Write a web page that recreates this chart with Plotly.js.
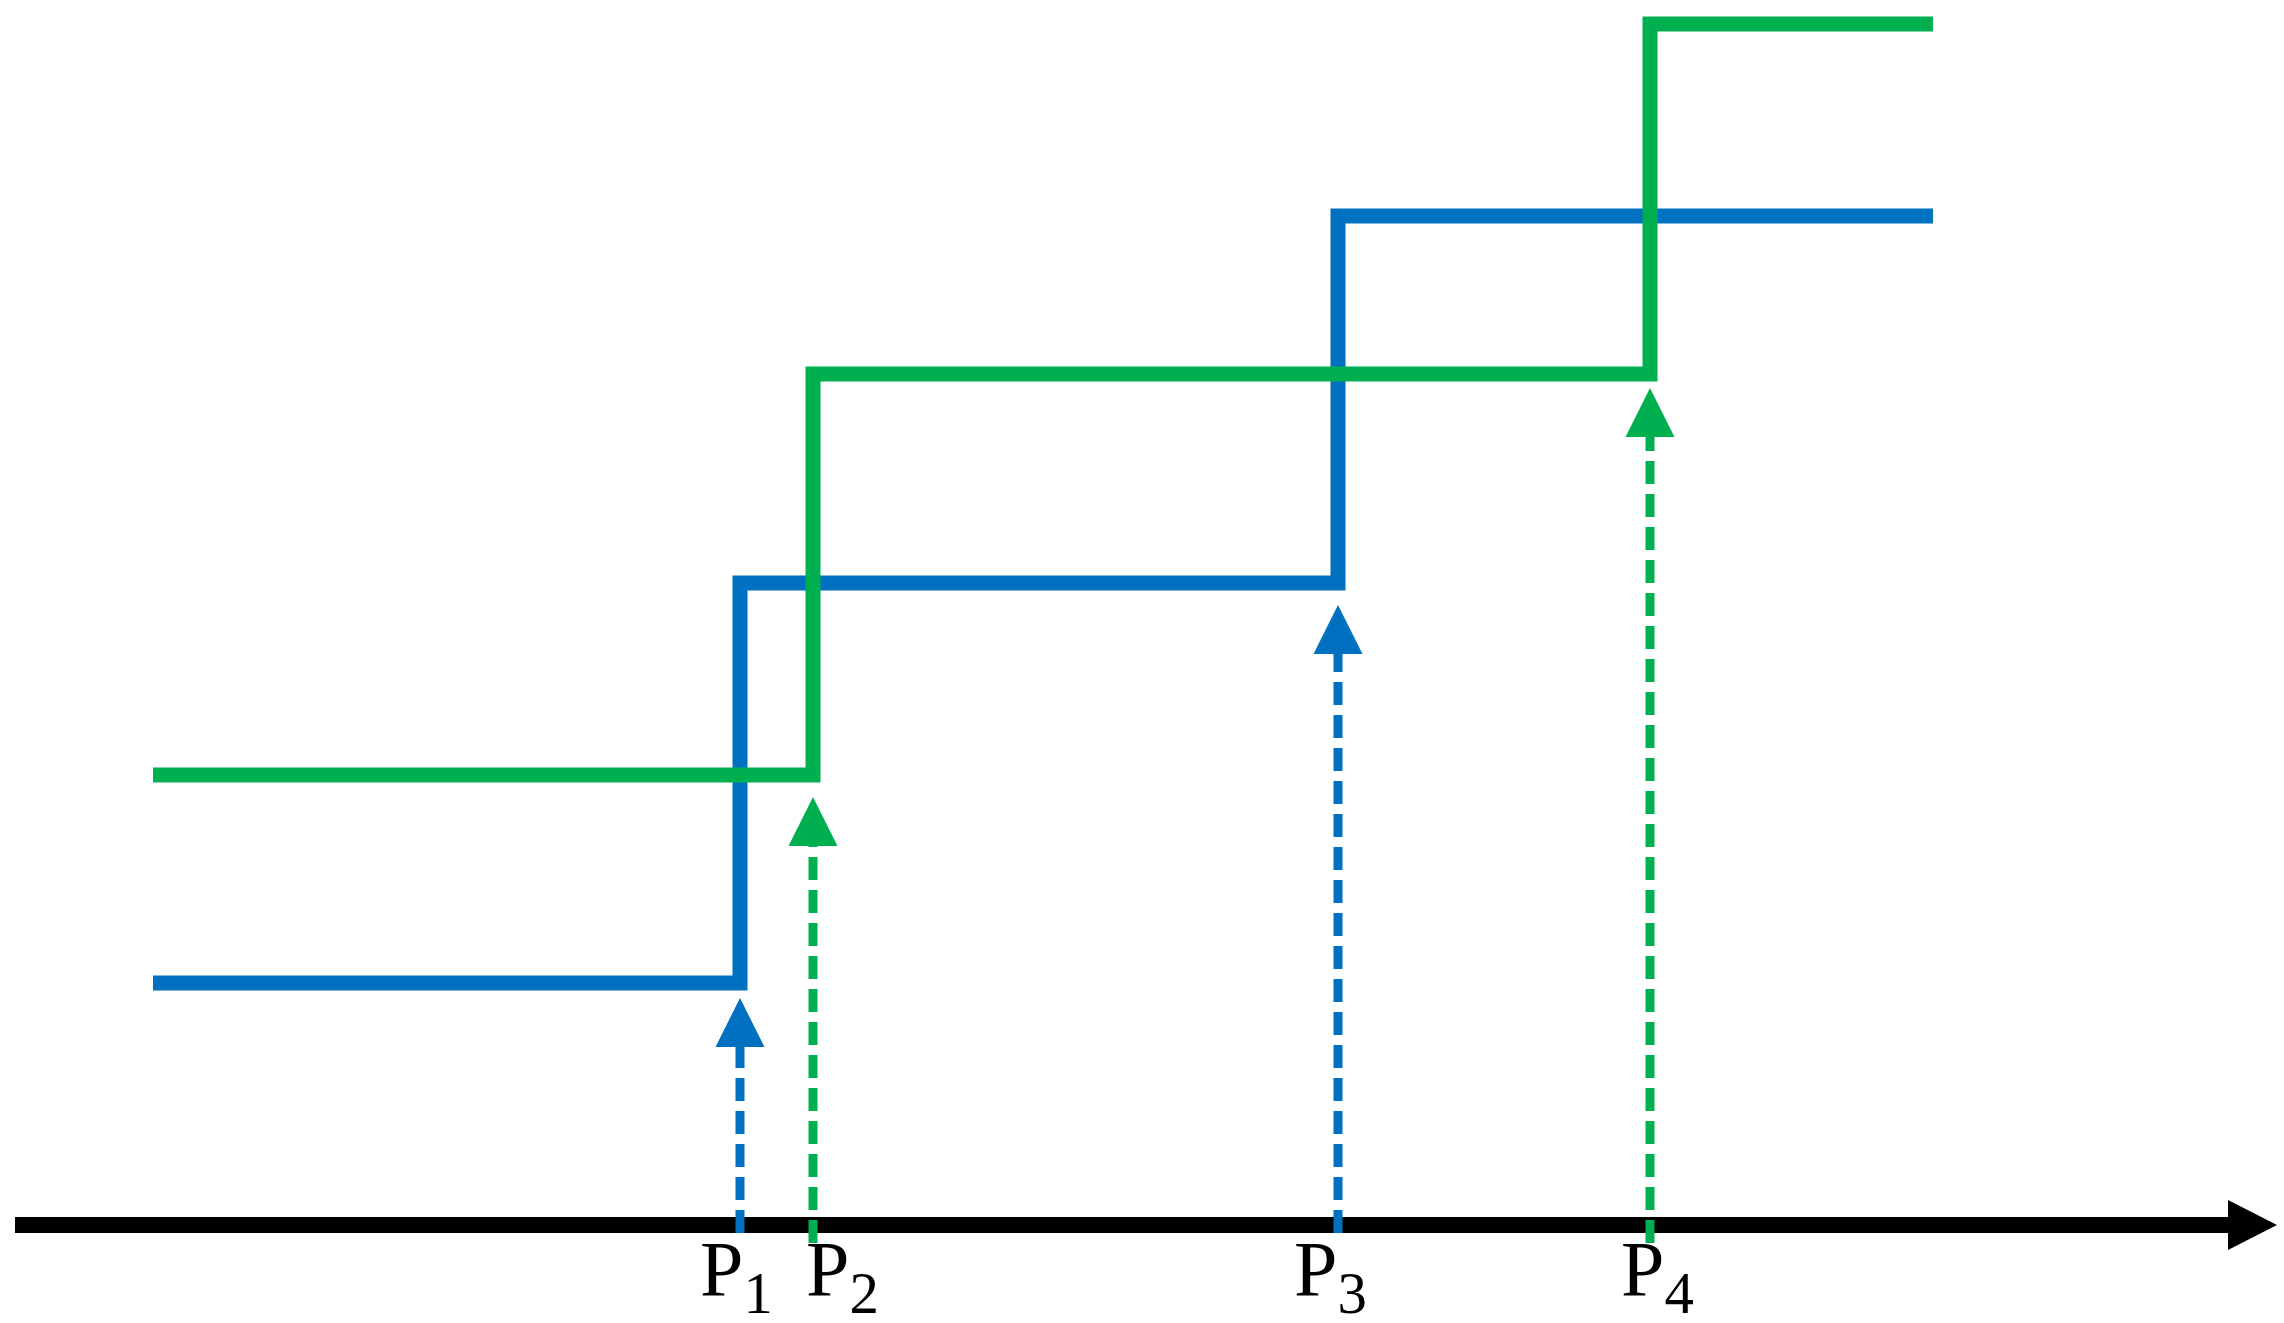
<!DOCTYPE html>
<html>
<head>
<meta charset="utf-8">
<script src="https://cdn.plot.ly/plotly-3.0.1.min.js"></script>
<style>
  html, body { margin: 0; padding: 0; background: #ffffff; overflow: hidden; }
  #chart { width: 2284px; height: 1323px; }
</style>
</head>
<body>
<div id="chart"></div>
<script>
// ---- data (abstract units) ----
const tStart = 0;
const tEnd = 17.8;
const axisStart = -1.38;
const axisEnd = 21.24;
const eventNames = ['P', 'P', 'P', 'P'];
const eventSubs = ['1', '2', '3', '4'];
const eventTimes = [5.87, 6.60, 11.85, 14.97];
const eventSeries = ['blue', 'green', 'blue', 'green'];
const blueLevels = [2.42, 6.42, 10.09];
const greenLevels = [4.50, 8.51, 12.01];
const arrowTips = [2.27, 4.28, 6.20, 8.37];

// ---- styles ----
const COLORS = { blue: '#0070C0', green: '#00B050' };
const labelShift = [-4, 29, -8, 7];   // px offset of label centre from the event line
const headLen = 0.49, headHalf = 0.245;
const axisHeadLen = 0.49, axisHeadHalf = 0.25;
const dashBottom = { blue: -0.08, green: -0.18 };
const SERIF = '"Liberation Serif", "Times New Roman", serif';

function stepTrace(levels, times, color) {
  return {
    type: 'scatter', mode: 'lines',
    x: [tStart].concat(times, [tEnd]),
    y: levels.concat([levels[levels.length - 1]]),
    line: { color: color, width: 15, shape: 'hv' },
    hoverinfo: 'skip', showlegend: false
  };
}

const blueTimes = eventTimes.filter((t, i) => eventSeries[i] === 'blue');
const greenTimes = eventTimes.filter((t, i) => eventSeries[i] === 'green');

const traces = [];
// time axis line + arrow head
traces.push({
  type: 'scatter', mode: 'lines',
  x: [axisStart, axisEnd - axisHeadLen + 0.05], y: [0, 0],
  line: { color: '#000000', width: 16 }, hoverinfo: 'skip', showlegend: false
});
traces.push({
  type: 'scatter', mode: 'lines', fill: 'toself', fillcolor: '#000000',
  x: [axisEnd - axisHeadLen, axisEnd, axisEnd - axisHeadLen, axisEnd - axisHeadLen],
  y: [axisHeadHalf, 0, -axisHeadHalf, axisHeadHalf],
  line: { color: '#000000', width: 0 }, hoverinfo: 'skip', showlegend: false
});

traces.push(stepTrace(blueLevels, blueTimes, COLORS.blue));
traces.push(stepTrace(greenLevels, greenTimes, COLORS.green));

// dashed event arrows
eventTimes.forEach((t, i) => {
  const c = COLORS[eventSeries[i]];
  const tip = arrowTips[i];
  traces.push({
    type: 'scatter', mode: 'lines',
    x: [t, t], y: [dashBottom[eventSeries[i]], tip - headLen],
    line: { color: c, width: 9, dash: '23px,10px' },
    hoverinfo: 'skip', showlegend: false
  });
  traces.push({
    type: 'scatter', mode: 'lines', fill: 'toself', fillcolor: c,
    x: [t - headHalf, t + headHalf, t, t - headHalf],
    y: [tip - headLen, tip - headLen, tip, tip - headLen],
    line: { color: c, width: 0 }, hoverinfo: 'skip', showlegend: false
  });
});

const annotations = eventTimes.map((t, i) => ({
  x: t, y: 0, xref: 'x', yref: 'y',
  xanchor: 'center', yanchor: 'top',
  xshift: labelShift[i], yshift: 1,
  showarrow: false, borderpad: 0,
  text: '<span style="font-size:78px">' + eventNames[i] + '</span><sub>' + eventSubs[i] + '</sub>',
  font: { family: SERIF, size: 84, color: '#000000' }
}));

const layout = {
  width: 2284, height: 1323,
  margin: { l: 0, r: 0, t: 0, b: 0, pad: 0 },
  paper_bgcolor: '#ffffff', plot_bgcolor: '#ffffff',
  showlegend: false,
  xaxis: { range: [-1.53, 21.31], visible: false, showgrid: false, zeroline: false, fixedrange: true },
  yaxis: { range: [-0.98, 12.25], visible: false, showgrid: false, zeroline: false, fixedrange: true },
  annotations: annotations
};

Plotly.newPlot('chart', traces, layout, { displayModeBar: false, staticPlot: true });
</script>
</body>
</html>
